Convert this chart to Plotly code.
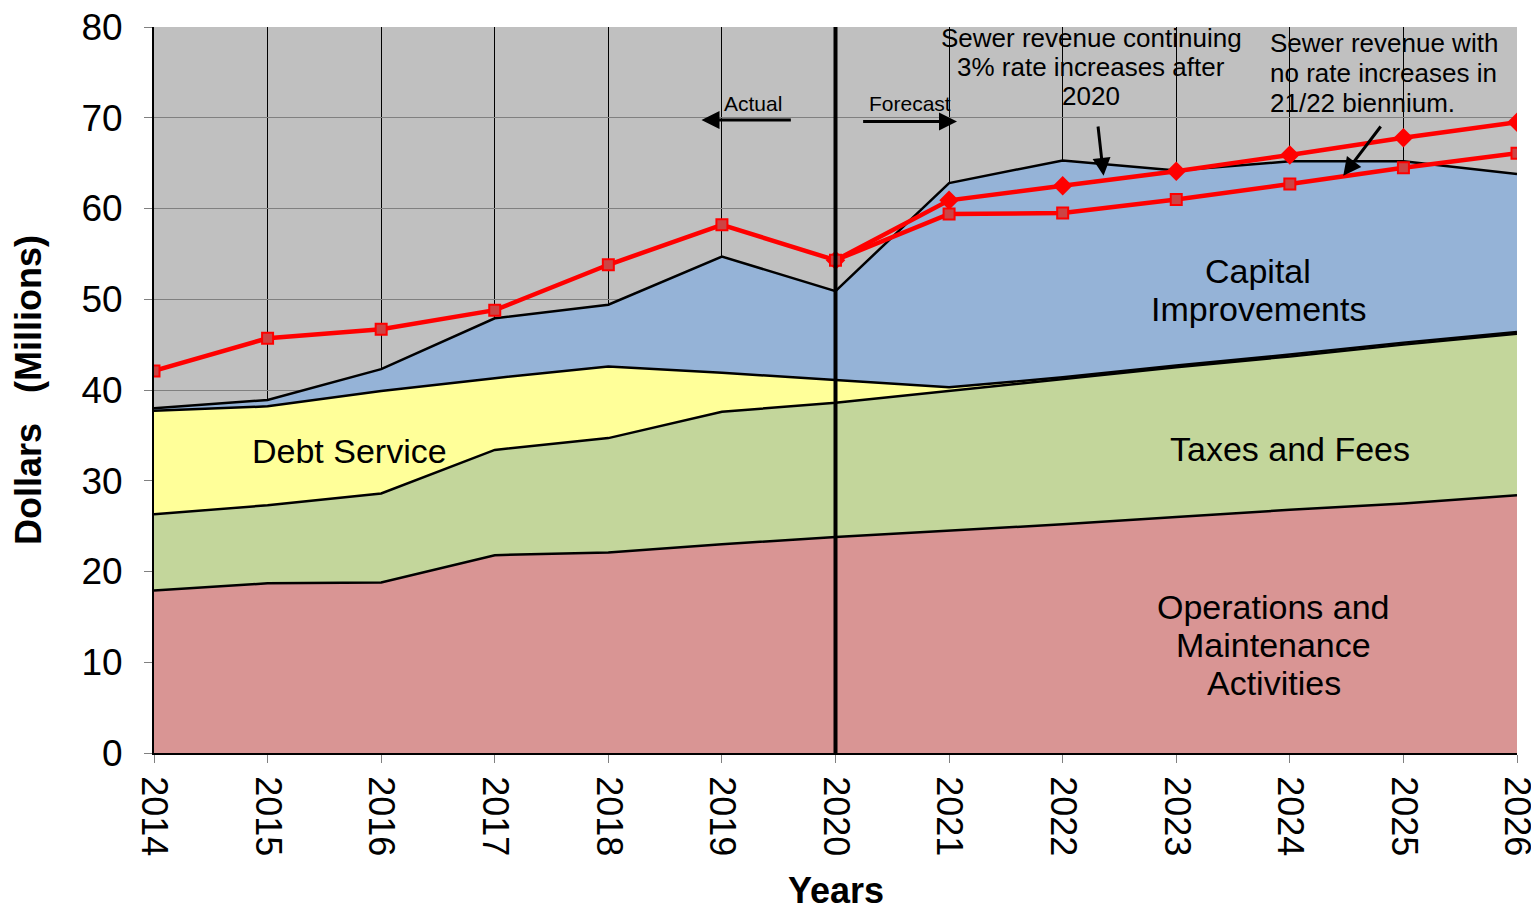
import plotly.graph_objects as go

# data (millions of dollars)
years = [2014, 2015, 2016, 2017, 2018, 2019, 2020, 2021, 2022, 2023, 2024, 2025, 2026]
operations = [17.9, 18.7, 18.8, 21.8, 22.1, 23.0, 23.8, 24.5, 25.2, 26.0, 26.8, 27.5, 28.4]
taxes_fees = [8.4, 8.6, 9.8, 11.6, 12.6, 14.6, 14.8, 15.4, 16.0, 16.5, 16.9, 17.5, 17.8]
debt_service = [11.4, 10.9, 11.3, 7.9, 7.9, 4.3, 2.5, 0.4, 0.2, 0.2, 0.2, 0.2, 0.2]
capital = [0.3, 0.7, 2.4, 6.6, 6.8, 12.8, 9.8, 22.5, 23.9, 21.5, 21.3, 20.0, 17.4]

rev_no_increase = [42.1, 45.7, 46.7, 48.8, 53.8, 58.2, 54.3, 59.4, 59.5, 61.0, 62.7, 64.5, 66.1]
years_3pct = [2020, 2021, 2022, 2023, 2024, 2025, 2026]
rev_3pct = [54.3, 60.9, 62.5, 64.1, 65.9, 67.8, 69.5]

FONT = "Liberation Sans, Arial, sans-serif"

fig = go.Figure()

layers = [
    ("Operations and Maintenance Activities", operations, "#D99594"),
    ("Taxes and Fees", taxes_fees, "#C3D69B"),
    ("Debt Service", debt_service, "#FFFF99"),
    ("Capital Improvements", capital, "#95B3D7"),
]
for name, vals, col in layers:
    fig.add_trace(go.Scatter(x=years, y=vals, name=name, mode="lines",
                             stackgroup="one", fillcolor=col,
                             line=dict(color="black", width=2.5)))

fig.add_trace(go.Scatter(x=years_3pct, y=rev_3pct, mode="lines+markers",
                         line=dict(color="#FF0000", width=4.5),
                         marker=dict(symbol="diamond", size=15, color="#FF0000")))
fig.add_trace(go.Scatter(x=years, y=rev_no_increase, mode="lines+markers",
                         line=dict(color="#FF0000", width=4.5),
                         marker=dict(symbol="square", size=11, color="#CC4444",
                                     line=dict(color="#FF0000", width=2))))

# actual / forecast divider
fig.add_shape(type="line", x0=2020, x1=2020, y0=0, y1=80.3,
              line=dict(color="black", width=4))

def label(x, y, lines, size=34, gap=4.2, **kw):
    # one annotation per line to keep the tight line spacing
    top = y + gap * (len(lines) - 1) / 2
    for i, t in enumerate(lines):
        fig.add_annotation(x=x, y=top - gap * i, text=t, showarrow=False,
                           font=dict(family=FONT, size=size, color="black"), **kw)

label(2023.72, 51.0, ["Capital", "Improvements"])
label(2015.72, 33.3, ["Debt Service"])
label(2024.0, 33.5, ["Taxes and Fees"])
label(2023.86, 11.9, ["Operations and", "Maintenance", "Activities"])
label(2019.27, 71.6, ["Actual"], size=21)
label(2020.66, 71.6, ["Forecast"], size=21)
label(2022.25, 75.6, ["Sewer revenue continuing", "3% rate increases after", "2020"],
      size=26, gap=3.2)
label(2023.81, 74.9, ["Sewer revenue with", "no rate increases in", "21/22 biennium."],
      size=26, gap=3.3, xanchor="left")

def arrow(x0, y0, x1, y1):
    fig.add_annotation(x=x1, y=y1, ax=x0, ay=y0, axref="x", ayref="y",
                       text="", showarrow=True, arrowhead=2, arrowsize=1.2,
                       arrowwidth=3, arrowcolor="black")

arrow(2019.62, 69.75, 2018.82, 69.75)
arrow(2020.23, 69.6, 2021.07, 69.6)
arrow(2022.31, 69.2, 2022.36, 63.6)
arrow(2024.81, 69.2, 2024.47, 63.6)

# x axis title as an annotation for exact placement
fig.add_annotation(x=0.5, y=-0.19, xref="paper", yref="paper", yanchor="middle",
                   text="<b>Years</b>", showarrow=False,
                   font=dict(family=FONT, size=36, color="black"))

# page body has an 8px margin, so the figure is sized/offset to compensate
fig.update_layout(
    width=1531, height=904,
    margin=dict(l=146, r=22, t=19, b=159),
    paper_bgcolor="white", plot_bgcolor="#C0C0C0",
    showlegend=False,
    font=dict(family=FONT, color="black"),
)
fig.update_xaxes(range=[2014, 2026], tickmode="array", tickvals=years,
                 tickangle=90, tickfont=dict(size=36), automargin=False,
                 ticklabeloverflow="allow",
                 showgrid=True, gridcolor="black", gridwidth=1,
                 showline=True, linecolor="black", linewidth=2,
                 ticks="outside", ticklen=8, tickcolor="#808080",
                 ticklabelstandoff=6)
fig.update_yaxes(range=[0, 80], dtick=10, tickfont=dict(size=37), automargin=False,
                 ticklabeloverflow="allow",
                 showgrid=True, gridcolor="#808080", gridwidth=1,
                 showline=True, linecolor="black", linewidth=2,
                 ticks="outside", ticklen=8, tickcolor="#808080",
                 ticklabelstandoff=14, zeroline=False,
                 title=dict(text="<b>Dollars   (Millions)</b>", font=dict(size=36), standoff=29))

fig.write_html("out.html")
